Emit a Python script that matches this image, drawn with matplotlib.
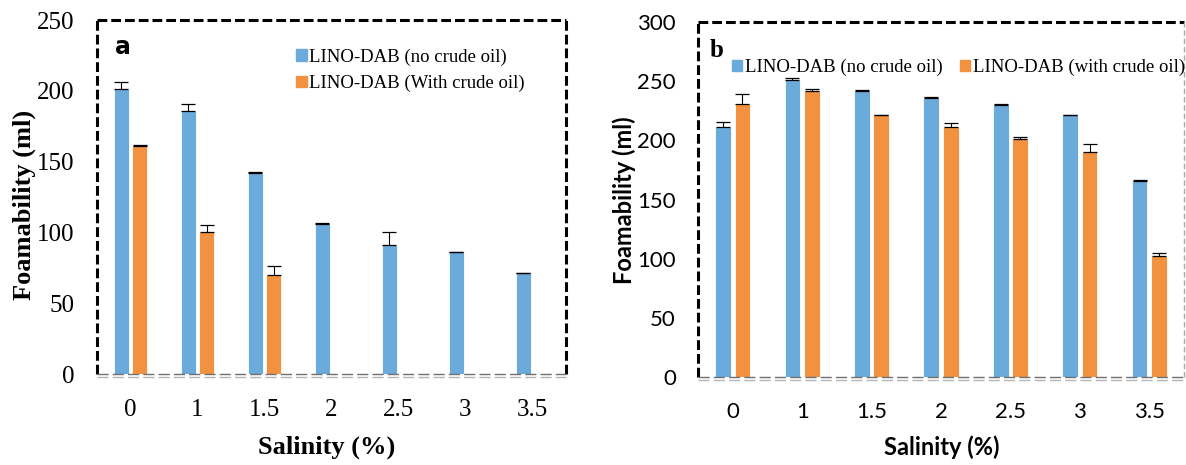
import numpy as np
import matplotlib
matplotlib.use("Agg")
import matplotlib.pyplot as plt
import matplotlib.transforms as mtransforms
from matplotlib.patches import Patch

# Datos
salinidad = ["0", "1", "1.5", "2", "2.5", "3", "3.5"]

# Panel a
a_sin_crudo = [201, 186, 142, 106, 91, 86, 71]
a_sin_crudo_err = [5, 5, 0.5, 0.5, 9, 0.5, 0.5]
a_con_crudo = [161, 100, 70]
a_con_crudo_err = [0.5, 5, 6]

# Panel b
b_sin_crudo = [211, 251, 242, 236, 230, 221, 166]
b_sin_crudo_err = [4.5, 2, 0.5, 0.5, 0.5, 0.8, 0.5]
b_con_crudo = [231, 242, 221, 211, 201, 190, 102]
b_con_crudo_err = [8, 1.5, 0.5, 3.7, 1.5, 6.5, 3]

AZUL = "#6AABDB"
NARANJA = "#F29241"
W, H = 1186, 465

fig = plt.figure(figsize=(W / 100, H / 100), dpi=100)


def ejes(izq, der, arriba, abajo):
    return fig.add_axes([izq / W, 1 - abajo / H, (der - izq) / W, (abajo - arriba) / H])


def barras(ax, sin, sin_err, con, con_err):
    x = np.arange(len(salinidad))
    ancho = 0.225
    d = 0.14
    ax.bar(x[:len(sin)] - d, sin, ancho, color=AZUL, edgecolor="white", linewidth=0.6, zorder=2)
    ax.bar(x[:len(con)] + d, con, ancho, color=NARANJA, edgecolor="white", linewidth=0.6, zorder=2)
    ax.errorbar(x[:len(sin)] - d, sin, yerr=[np.zeros(len(sin)), sin_err], fmt="none",
                ecolor="black", elinewidth=0.8, capsize=5, capthick=0.9, zorder=3)
    ax.errorbar(x[:len(con)] + d, con, yerr=[np.zeros(len(con)), con_err], fmt="none",
                ecolor="black", elinewidth=0.8, capsize=5, capthick=0.9, zorder=3)
    ax.set_xlim(-0.5, len(salinidad) - 0.5)
    ax.set_xticks(x)
    ax.set_xticklabels(salinidad)


def linea(ax, xs, ys, **kw):
    ax.plot(xs, ys, transform=ax.transAxes, clip_on=False, solid_capstyle="butt",
            dash_capstyle="butt", **kw)


def marco(ax, derecha_negra):
    for s in ax.spines.values():
        s.set_visible(False)
    negro = dict(color="black", lw=2.2, linestyle=(0, (3.2, 1.3)), zorder=5)
    linea(ax, [0, 0], [0, 1], **negro)
    linea(ax, [0, 1], [1, 1], **negro)
    if derecha_negra:
        linea(ax, [1, 1], [0, 1], **negro)
    else:
        linea(ax, [1, 1], [0, 1], color="#aaaaaa", lw=1, linestyle=(0, (4, 2)), zorder=5)
    # linea base doble, gris y discontinua
    linea(ax, [0, 1], [0, 0], color="#6f6f6f", lw=1, linestyle=(0, (8, 3)), zorder=5)
    off = mtransforms.offset_copy(ax.transAxes, fig=fig, y=-2.5, units="dots")
    ax.plot([0, 1], [0, 0], transform=off, color="#b5b5b5", lw=1,
            linestyle=(0, (8, 3)), clip_on=False, zorder=5)
    ax.tick_params(length=0)


# --- Panel a ---
serif = "Liberation Serif"
ax1 = ejes(97, 566, 20, 374)
barras(ax1, a_sin_crudo, a_sin_crudo_err, a_con_crudo, a_con_crudo_err)
ax1.set_ylim(0, 250)
ax1.set_yticks([0, 50, 100, 150, 200, 250])
marco(ax1, True)
ax1.tick_params(axis="y", pad=16)
ax1.tick_params(axis="x", pad=18)
for t in ax1.get_xticklabels() + ax1.get_yticklabels():
    t.set_fontfamily(serif)
    t.set_fontsize(18)
ax1.text(0.038, 0.925, "a", transform=ax1.transAxes, fontsize=17, fontweight="bold",
         family="DejaVu Sans", va="center")
ax1.legend(handles=[Patch(color=AZUL, label="LINO-DAB (no crude oil)"),
                    Patch(color=NARANJA, label="LINO-DAB (With crude oil)")],
           loc="upper left", bbox_to_anchor=(0.425, 0.92), frameon=False,
           prop={"family": serif, "size": 13.5}, handlelength=0.55, handleheight=0.55,
           handletextpad=0.15, borderpad=0, borderaxespad=0, labelspacing=0.5)
fig.text(24 / W, 1 - 205 / H, "Foamability (ml)", rotation=90, ha="center", va="center",
         family=serif, fontweight="bold", fontsize=19)
fig.text(327 / W, 1 - 447 / H, "Salinity (%)", ha="center", va="center",
         family=serif, fontweight="bold", fontsize=19)

# --- Panel b ---
sans = "Lato"
ax2 = ejes(698, 1184, 22, 377)
barras(ax2, b_sin_crudo, b_sin_crudo_err, b_con_crudo, b_con_crudo_err)
ax2.set_ylim(0, 300)
ax2.set_yticks([0, 50, 100, 150, 200, 250, 300])
marco(ax2, False)
ax2.tick_params(axis="y", pad=16)
ax2.tick_params(axis="x", pad=18)
for t in ax2.get_xticklabels() + ax2.get_yticklabels():
    t.set_fontfamily(sans)
    t.set_fontsize(16)
ax2.text(0.025, 0.92, "b", transform=ax2.transAxes, fontsize=18, fontweight="bold",
         family=serif, va="center")
ax2.legend(handles=[Patch(color=AZUL, label="LINO-DAB (no crude oil)"),
                    Patch(color=NARANJA, label="LINO-DAB (with crude oil)")],
           loc="center left", bbox_to_anchor=(0.07, 0.872), frameon=False, ncol=2,
           prop={"family": serif, "size": 13.5}, handlelength=0.55, handleheight=0.55,
           handletextpad=0.15, borderpad=0, borderaxespad=0, columnspacing=0.9)
fig.text(624 / W, 1 - 200 / H, "Foamability (ml)", rotation=90, ha="center", va="center",
         family=sans, fontweight="bold", fontsize=17)
fig.text(942 / W, 1 - 447 / H, "Salinity (%)", ha="center", va="center",
         family=sans, fontweight="bold", fontsize=17)

fig.savefig("out.png", dpi=100)
